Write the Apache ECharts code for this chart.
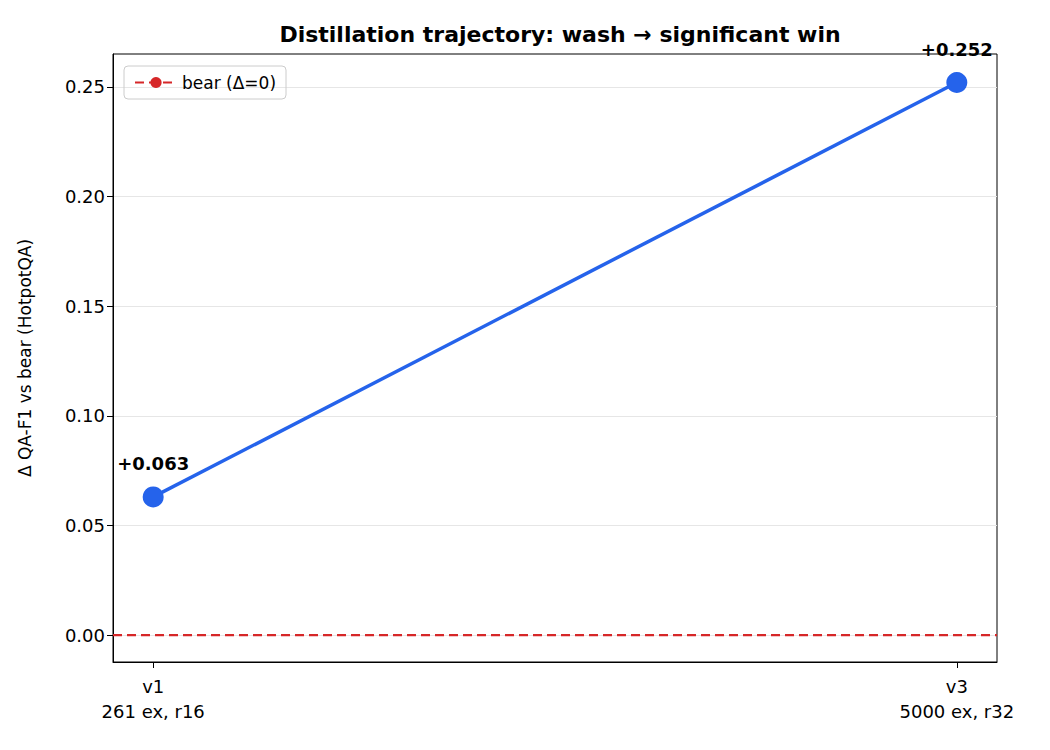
<!DOCTYPE html>
<html><head><meta charset="utf-8">
<script src="https://cdn.jsdelivr.net/npm/echarts@6/dist/echarts.min.js"></script>
<style>body{margin:0;background:#fff}#c{width:1050px;height:750px}</style>
</head><body><div id="c"></div>
<script>
var xPos = [0, 1];
var xLabels = ['v1\n261 ex, r16', 'v3\n5000 ex, r32'];
var deltas = [0.063, 0.252];
var pointLabels = ['+0.063', '+0.252'];
var yTicks = [0, 0.05, 0.10, 0.15, 0.20, 0.25];

var chart = echarts.init(document.getElementById('c'), null, { renderer: 'svg' });
var font = 'DejaVu Sans';
chart.setOption({
  animation: false,
  textStyle: { fontFamily: font },
  title: {
    text: 'Distillation trajectory: wash \u2192 significant win',
    left: 555, top: 18, textAlign: 'center',
    textStyle: { fontSize: 22, fontWeight: 'bold', color: '#000', fontFamily: font }
  },
  legend: {
    left: 124, top: 66, orient: 'vertical',
    borderColor: '#ccc', borderWidth: 1, borderRadius: 4, padding: [8, 10],
    itemWidth: 42, itemHeight: 14,
    textStyle: { fontSize: 17, color: '#000', fontFamily: font },
    data: ['bear (\u0394=0)']
  },
  grid: { left: 113, right: 53, top: 54, bottom: 88, show: true, borderColor: '#000', borderWidth: 1, backgroundColor: 'transparent' },
  xAxis: {
    type: 'value', min: -0.05, max: 1.05,
    axisLine: { show: true, onZero: false, lineStyle: { color: '#000' } },
    axisTick: { show: true, customValues: xPos, length: 6, lineStyle: { color: '#000' } },
    axisLabel: {
      customValues: xPos, fontSize: 18, color: '#000', lineHeight: 25, margin: 12,
      formatter: function (v) { return xLabels[xPos.indexOf(Math.round(v))] || ''; }
    },
    splitLine: { show: false }
  },
  yAxis: {
    type: 'value', min: -0.0123, max: 0.265,
    name: '\u0394 QA-F1 vs bear (HotpotQA)', nameLocation: 'middle', nameGap: 80,
    nameTextStyle: { fontSize: 17, color: '#000' },
    axisLine: { show: true, onZero: false, lineStyle: { color: '#000' } },
    axisTick: { show: true, customValues: yTicks, length: 6, lineStyle: { color: '#000' } },
    axisLabel: {
      customValues: yTicks, fontSize: 18, color: '#000',
      formatter: function (v) { return v.toFixed(2); }
    },
    splitLine: { show: true, customValues: yTicks, lineStyle: { color: '#e6e6e6' } }
  },
  series: [
    {
      name: 'bear (\u0394=0)', type: 'line', data: [[-0.05, 0], [1.05, 0]],
      symbol: 'none', lineStyle: { color: '#d62728', type: [9, 5], width: 2.2 },
      itemStyle: { color: '#d62728' }, z: 1
    },
    {
      name: 'traj', type: 'line',
      data: xPos.map(function (x, i) { return [x, deltas[i]]; }),
      symbol: 'circle', symbolSize: 21,
      lineStyle: { color: '#2563eb', width: 3.5 },
      itemStyle: { color: '#2563eb' },
      label: {
        show: true, position: 'top', distance: 14, fontSize: 18, fontWeight: 'bold', color: '#000',
        formatter: function (p) { return pointLabels[p.dataIndex]; }
      },
      z: 3
    }
  ]
});
</script></body></html>
